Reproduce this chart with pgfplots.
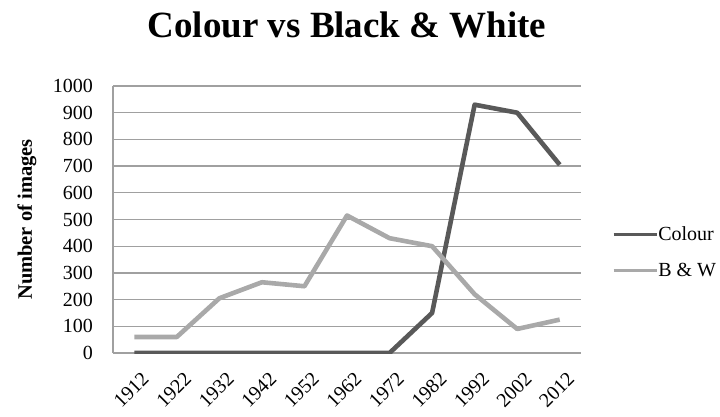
\documentclass[border=0pt]{standalone}
\usepackage{pgfplots}
\pgfplotsset{compat=1.18}
\usepackage{fontspec}
\setmainfont{Liberation Serif}

\definecolor{colourline}{HTML}{595959}
\definecolor{bwline}{HTML}{A9A9A9}
\definecolor{gridgray}{HTML}{A0A0A0}

\begin{document}
\begin{tikzpicture}
\useasboundingbox (-113bp,-64bp) rectangle (607bp,353bp);
\begin{axis}[
  scale only axis,
  width=468bp, height=267bp,
  xmin=-0.5, xmax=10.5,
  ymin=0, ymax=1000,
  xtick={0,...,10},
  xticklabels={1912,1922,1932,1942,1952,1962,1972,1982,1992,2002,2012},
  ytick={0,100,...,1000},
  ymajorgrids,
  grid style={gridgray, line width=1.3bp},
  axis line style={gridgray, line width=1.3bp},
  axis x line=bottom,
  axis y line=left,
  x axis line style={-},
  y axis line style={-},
  major tick length=0pt,
  /pgf/number format/assume math mode=true,
  /pgf/number format/1000 sep={},
  tick label style={font=\fontsize{20bp}{22bp}\selectfont},
  yticklabel style={xshift=-18bp, inner sep=2bp},
  xticklabel style={rotate=45, anchor=north east, inner sep=1bp,
                    xshift=-7bp, yshift=-16bp},
  title={\textbf{Colour vs Black \& White}},
  title style={at={(0.5,1)}, anchor=center, yshift=55bp,
               font=\fontsize{37bp}{40bp}\selectfont},
  ylabel={\textbf{Number of images}},
  ylabel style={at={(axis description cs:-0.184,0.5)}, anchor=center,
                font=\fontsize{20.5bp}{22bp}\selectfont},
  legend style={at={(axis description cs:1.066,0.378)}, anchor=west,
                draw=none, fill=none, font=\fontsize{20bp}{22bp}\selectfont,
                row sep=21bp, inner sep=0pt,
                nodes={inner sep=0pt},
                /tikz/every even column/.append style={column sep=0bp}},
  legend cell align=left,
  legend image code/.code={\draw[#1, line width=3.2bp] (0bp,0bp) -- (43bp,0bp);},
]
\addplot[colourline, line width=4.6bp, line join=round] coordinates {
  (0,0) (1,0) (2,0) (3,0) (4,0) (5,0) (6,0)
  (7,150) (8,930) (9,900) (10,705)
};
\addlegendentry{Colour}
\addplot[bwline, line width=4.6bp, line join=round] coordinates {
  (0,60) (1,60) (2,205) (3,265) (4,250) (5,515) (6,430)
  (7,400) (8,220) (9,90) (10,125)
};
\addlegendentry{B \& W}
\end{axis}
\end{tikzpicture}
\end{document}
